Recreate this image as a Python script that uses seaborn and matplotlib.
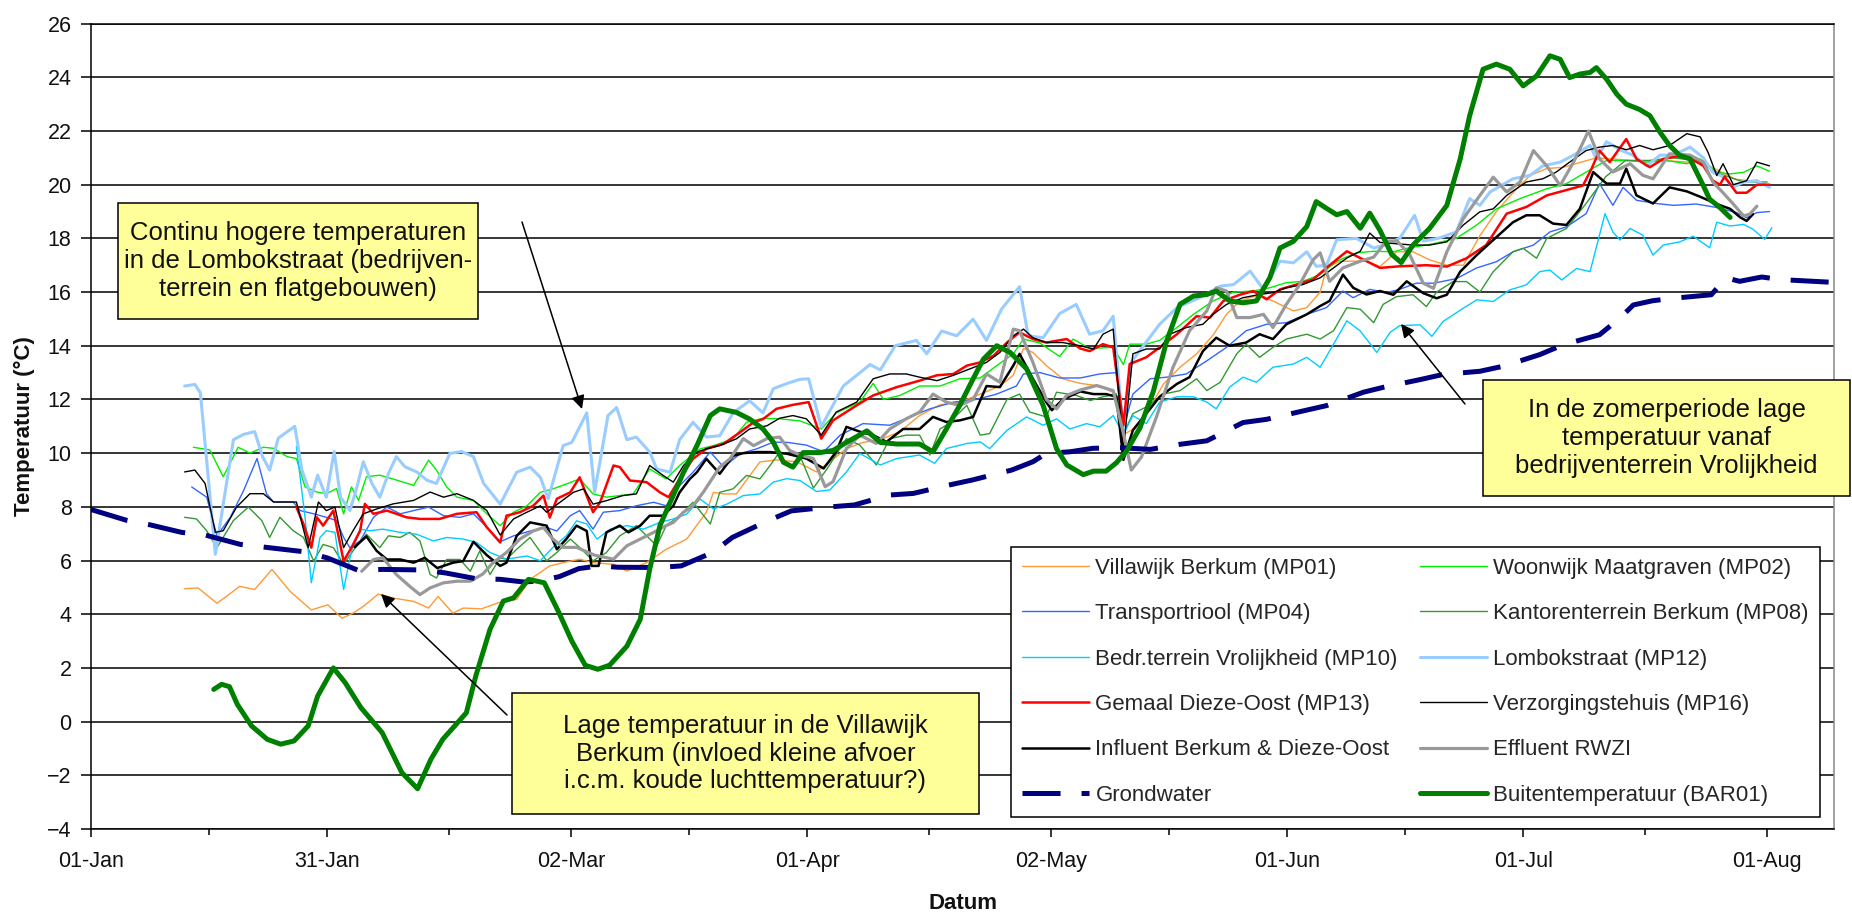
import numpy as np
import pandas as pd
import matplotlib
matplotlib.use('Agg')
import matplotlib.pyplot as plt
import matplotlib.dates as mdates
from matplotlib.ticker import FixedLocator
from matplotlib.patches import Rectangle
import seaborn as sns

# Meetreeksen: (dag sinds 1 januari, temperatuur in graden C)
villawijk = [(11.9, 4.95), (13.6, 4.98), (16.0, 4.41), (17.2, 4.66), (18.9, 5.04), (20.8, 4.92), (23.0, 5.67),
             (25.3, 4.85), (28.0, 4.16), (30.1, 4.35), (31.9, 3.85), (33.3, 4.04), (34.6, 4.29), (36.5, 4.75),
             (38.4, 4.6), (41.0, 4.48), (42.9, 4.23), (44.1, 4.66), (46.0, 4.04), (47.3, 4.23), (49.6, 4.2),
             (52.0, 4.45), (54.1, 4.55), (55.8, 5.3), (58.3, 5.8), (60.0, 5.92), (62.1, 6.05), (63.8, 5.92),
             (66.4, 5.86), (68.1, 5.61), (70.6, 5.92), (73.1, 6.42), (75.7, 6.8), (78.2, 7.8), (79.1, 8.54),
             (80.4, 8.48), (82.0, 8.48), (85.0, 9.67), (87.1, 9.75), (89.7, 9.68), (92.2, 9.3), (93.9, 9.68),
             (96.0, 10.17), (98.1, 10.4), (100.3, 10.5), (102.8, 10.8), (105.3, 11.4), (107.9, 11.8),
             (110.4, 11.9), (113.0, 12.2), (115.5, 12.5), (117.2, 12.9), (118.5, 13.9), (119.7, 13.75),
             (121.4, 13.26), (123.5, 12.77), (125.7, 12.6), (128.2, 12.5), (130.3, 12.2), (131.2, 10.7),
             (132.2, 10.85), (134.1, 11.47), (136.3, 12.58), (138.4, 13.2), (140.5, 13.7), (142.6, 14.4),
             (144.3, 15.17), (146.0, 15.67), (148.5, 15.9), (151.1, 15.54), (152.8, 15.3), (154.5, 15.42),
             (156.2, 16.0), (157.0, 16.9), (158.7, 17.15), (160.4, 17.15), (162.1, 17.15), (163.8, 16.95),
             (165.9, 17.5), (168.0, 17.5), (170.1, 17.2), (172.3, 17.0), (174.4, 17.0), (176.5, 18.1),
             (178.6, 19.0), (180.7, 19.7), (182.9, 20.35), (185.0, 20.6), (187.1, 20.65), (191.3, 21.0),
             (196.0, 20.9), (200.0, 20.9), (205.0, 20.8), (209.0, 20.2), (212.5, 20.1)]

woonwijk = [(13.0, 10.22), (15.1, 10.12), (16.8, 9.12), (18.7, 10.22), (20.2, 10.0), (21.9, 10.22), (23.2, 10.18),
            (24.9, 9.87), (26.1, 9.8), (27.2, 8.74), (28.7, 8.55), (29.9, 8.49), (31.2, 8.68), (32.1, 7.74),
            (33.1, 8.74), (34.0, 8.24), (35.0, 9.12), (36.7, 9.18), (38.8, 9.0), (41.0, 8.8), (42.9, 9.74),
            (43.9, 9.37), (45.2, 8.74), (46.5, 8.36), (48.6, 8.24), (50.3, 7.74), (52.0, 7.3), (53.7, 7.8),
            (55.4, 8.04), (57.1, 8.54), (58.7, 8.67), (60.4, 8.85), (62.1, 9.04), (63.8, 8.48), (65.5, 8.36),
            (67.2, 8.42), (68.9, 8.48), (71.0, 9.41), (73.1, 9.04), (74.8, 9.54), (77.4, 10.16), (79.1, 10.28),
            (81.6, 10.53), (83.3, 11.15), (85.4, 11.3), (87.5, 11.28), (90.1, 11.2), (92.8, 10.9), (94.7, 11.5),
            (97.7, 11.9), (99.4, 12.6), (100.7, 12.0), (102.8, 12.15), (105.3, 12.5), (107.9, 12.5),
            (110.4, 12.77), (113.0, 12.8), (115.1, 13.26), (117.2, 13.7), (118.5, 14.25), (120.6, 14.1),
            (123.1, 13.6), (124.8, 14.25), (126.9, 13.9), (129.9, 13.94), (131.2, 13.3), (132.0, 14.06),
            (134.1, 14.06), (135.8, 14.2), (138.0, 14.68), (140.1, 15.17), (142.6, 15.67), (145.2, 16.0),
            (147.7, 16.04), (149.8, 16.16), (151.9, 16.35), (154.0, 16.4), (156.2, 16.65), (158.3, 17.15),
            (160.8, 17.46), (163.0, 17.52), (165.5, 17.5), (167.2, 17.63), (170.6, 17.8), (173.5, 18.0),
            (176.1, 18.5), (178.6, 19.1), (181.6, 19.48), (185.0, 19.85), (187.5, 20.04), (190.0, 20.47),
            (192.6, 20.9), (195.1, 20.9), (197.7, 20.84), (200.2, 20.9), (202.8, 20.78), (204.5, 20.96),
            (206.6, 20.46), (208.3, 20.4), (210.0, 20.46), (211.7, 20.7), (213.3, 20.5)]

transportriool = [(12.8, 8.74), (14.7, 8.36), (16.0, 6.92), (17.7, 7.61), (19.4, 8.61), (21.1, 9.8), (22.3, 8.49),
                  (23.2, 8.18), (25.7, 8.18), (26.6, 7.86), (28.3, 7.74), (29.9, 7.61), (31.2, 7.49), (32.1, 6.86),
                  (32.9, 6.48), (34.2, 6.73), (35.9, 7.61), (37.6, 7.99), (39.3, 7.74), (41.0, 7.86), (42.9, 7.99),
                  (44.8, 7.67), (46.9, 7.61), (48.6, 7.74), (50.3, 7.24), (52.0, 6.7), (53.7, 6.92), (55.8, 7.1),
                  (57.9, 7.23), (59.2, 7.1), (60.9, 7.67), (62.1, 7.86), (63.8, 7.17), (65.1, 7.8), (67.2, 7.86),
                  (69.3, 8.04), (71.5, 8.17), (73.1, 8.04), (74.8, 8.79), (76.5, 9.29), (78.7, 10.04), (80.4, 9.48),
                  (82.5, 9.98), (84.6, 10.16), (86.7, 10.41), (88.5, 10.4), (90.9, 10.3), (93.1, 10.05),
                  (95.2, 10.67), (98.1, 11.1), (101.5, 11.04), (104.1, 11.35), (106.6, 11.65), (109.6, 11.9),
                  (112.5, 12.0), (115.1, 12.2), (117.6, 12.5), (118.5, 12.95), (120.6, 13.0), (123.1, 12.8),
                  (125.7, 12.8), (128.2, 12.95), (130.3, 13.0), (131.2, 10.9), (132.4, 12.2), (134.6, 12.77),
                  (136.7, 12.83), (139.2, 12.95), (141.8, 13.44), (144.3, 13.94), (146.8, 14.56), (149.4, 14.8),
                  (151.9, 14.86), (154.5, 15.17), (157.0, 15.42), (159.1, 16.04), (160.4, 15.79), (162.5, 16.1),
                  (164.6, 15.98), (166.3, 16.1), (168.4, 16.33), (170.6, 16.33), (173.5, 16.5), (176.1, 16.9),
                  (178.6, 17.13), (180.7, 17.5), (183.3, 17.75), (185.4, 18.24), (187.5, 18.43), (190.0, 18.92),
                  (191.7, 20.04), (193.4, 19.23), (194.7, 19.9), (196.4, 19.42), (198.9, 19.3), (201.1, 19.23),
                  (204.0, 19.28), (206.6, 19.15), (209.1, 18.96), (210.4, 18.77), (211.7, 18.96), (213.3, 19.0)]

kantorenterrein = [(11.9, 7.61), (13.4, 7.55), (14.7, 7.11), (16.0, 6.48), (18.1, 7.49), (20.0, 7.99), (21.7, 7.49),
                   (22.7, 6.86), (24.0, 7.61), (25.7, 7.11), (27.0, 6.86), (28.3, 5.98), (29.5, 6.6), (30.8, 6.48),
                   (32.1, 5.86), (33.3, 6.36), (35.0, 6.98), (36.7, 6.48), (37.8, 6.92), (39.3, 6.86), (40.5, 7.05),
                   (41.8, 6.73), (43.1, 5.48), (43.9, 5.35), (45.2, 6.04), (46.9, 6.04), (48.2, 5.6), (49.4, 6.36),
                   (50.7, 5.48), (52.0, 6.1), (52.8, 6.05), (54.1, 6.42), (55.8, 6.86), (57.9, 5.99), (59.2, 6.3),
                   (60.9, 6.8), (62.1, 6.49), (63.8, 5.99), (65.5, 6.3), (67.2, 6.92), (69.3, 7.3), (70.6, 6.92),
                   (71.9, 6.55), (73.1, 7.3), (74.8, 7.67), (76.5, 8.17), (78.7, 7.36), (79.9, 8.54), (81.6, 8.67),
                   (83.3, 9.17), (85.0, 9.04), (86.3, 9.54), (87.5, 10.04), (90.1, 9.9), (91.8, 8.7), (93.5, 9.4),
                   (96.0, 10.54), (97.7, 10.3), (99.8, 9.56), (101.5, 10.54), (103.6, 10.67), (105.3, 10.67),
                   (106.6, 9.93), (107.9, 10.9), (108.7, 11.04), (111.3, 11.78), (113.0, 10.67), (114.2, 10.73),
                   (116.4, 12.0), (118.0, 12.2), (119.3, 11.53), (121.4, 11.35), (122.7, 12.27), (125.2, 12.15),
                   (127.0, 11.96), (128.6, 12.1), (130.3, 12.2), (131.4, 10.85), (132.4, 11.47), (134.1, 11.72),
                   (136.3, 12.2), (138.4, 12.33), (140.5, 12.77), (141.8, 12.33), (143.5, 12.64), (145.6, 13.7),
                   (146.8, 14.06), (148.5, 13.57), (150.2, 13.94), (151.9, 14.25), (154.5, 14.43), (156.2, 14.25),
                   (157.9, 14.56), (159.6, 15.42), (161.3, 15.36), (163.0, 14.86), (164.2, 15.54), (165.9, 15.83),
                   (168.0, 15.9), (169.7, 15.46), (171.0, 16.0), (173.1, 16.39), (174.8, 16.39), (176.5, 16.0),
                   (178.2, 16.76), (180.7, 17.5), (182.0, 17.63), (183.7, 17.26), (185.0, 18.0), (187.5, 18.37),
                   (190.0, 19.3), (192.5, 20.3), (195.0, 20.9), (198.0, 20.9), (201.0, 21.0), (204.0, 20.9),
                   (207.0, 20.4), (210.0, 20.1), (213.0, 20.1)]

vrolijkheid = [(26.1, 10.25), (27.2, 7.61), (28.0, 5.17), (29.1, 6.86), (29.9, 7.11), (31.0, 7.05), (32.1, 4.92),
               (33.1, 6.36), (34.2, 7.17), (35.4, 7.11), (37.1, 7.17), (39.3, 7.05), (41.4, 6.98), (43.5, 6.73),
               (45.2, 6.86), (47.3, 6.8), (49.0, 6.67), (50.7, 6.3), (52.8, 6.05), (55.4, 6.17), (57.1, 5.99),
               (58.7, 6.49), (60.4, 6.92), (61.7, 7.48), (63.0, 7.36), (64.3, 6.8), (66.0, 7.17), (68.1, 7.3),
               (70.2, 7.17), (72.3, 7.42), (74.0, 7.55), (75.7, 7.73), (77.4, 8.29), (79.1, 7.92), (80.8, 8.1),
               (82.9, 8.42), (85.0, 8.48), (86.7, 8.92), (88.4, 9.05), (90.1, 8.98), (92.2, 8.57), (93.9, 8.63),
               (96.0, 9.3), (97.7, 9.99), (100.3, 9.56), (102.4, 9.8), (105.3, 9.93), (107.2, 9.62),
               (108.7, 10.17), (111.3, 10.36), (113.0, 10.42), (114.2, 10.17), (116.4, 10.85), (118.9, 11.35),
               (121.0, 11.04), (122.7, 11.28), (124.4, 10.9), (126.5, 11.1), (128.2, 10.98), (129.9, 11.4),
               (131.2, 10.7), (132.4, 11.4), (134.1, 11.1), (135.8, 11.9), (138.0, 12.1), (140.1, 12.1),
               (141.8, 11.9), (143.0, 11.65), (144.7, 12.46), (146.4, 12.83), (148.1, 12.64), (150.2, 13.2),
               (152.8, 13.32), (154.5, 13.57), (156.2, 13.2), (157.9, 14.06), (159.6, 14.93), (161.3, 14.55),
               (163.4, 13.75), (165.1, 14.5), (166.3, 14.75), (168.9, 14.78), (170.4, 14.35), (171.8, 14.9),
               (174.4, 15.4), (176.1, 15.71), (178.2, 15.65), (180.3, 16.08), (182.4, 16.27), (184.1, 16.76),
               (185.4, 16.82), (186.9, 16.45), (188.8, 16.88), (190.5, 16.76), (192.4, 18.92), (193.4, 18.24),
               (194.3, 17.94), (195.6, 18.37), (197.2, 18.12), (198.5, 17.38), (199.8, 17.75), (201.9, 17.87),
               (203.6, 18.08), (205.7, 17.65), (206.6, 18.6), (208.3, 18.46), (210.0, 18.52), (211.2, 18.34),
               (212.7, 17.96), (213.6, 18.4)]

lombokstraat = [(11.9, 12.5), (13.2, 12.56), (13.9, 12.25), (15.8, 6.23), (18.1, 10.5), (19.4, 10.7), (20.8, 10.8),
                (21.8, 9.87), (22.7, 9.37), (23.8, 10.56), (25.9, 11.0), (26.8, 9.37), (28.0, 8.36), (28.8, 9.18),
                (29.9, 8.36), (30.9, 10.06), (31.7, 8.36), (32.9, 7.86), (33.8, 8.74), (34.6, 9.68), (35.7, 8.87),
                (36.7, 8.36), (37.8, 9.24), (38.8, 9.87), (39.9, 9.49), (41.4, 9.3), (42.7, 8.99), (43.9, 8.87),
                (45.6, 9.99), (47.1, 10.06), (48.6, 9.87), (49.9, 8.87), (52.0, 8.1), (54.1, 9.29), (55.8, 9.48),
                (57.1, 9.1), (58.1, 8.3), (60.0, 10.28), (61.1, 10.4), (63.0, 11.5), (64.0, 8.54), (65.7, 11.4),
                (66.8, 11.7), (68.1, 10.5), (69.3, 10.6), (71.0, 10.04), (71.9, 9.41), (73.6, 9.29), (74.8, 10.5),
                (76.5, 11.15), (78.2, 10.6), (79.9, 10.65), (81.6, 11.5), (83.7, 11.95), (85.4, 11.5),
                (86.7, 12.4), (88.5, 12.6), (90.1, 12.75), (91.2, 12.77), (92.8, 10.98), (95.6, 12.5),
                (99.0, 13.3), (100.3, 13.1), (102.2, 14.0), (104.9, 14.2), (106.2, 13.7), (108.1, 14.55),
                (110.0, 14.37), (112.1, 14.99), (113.8, 14.2), (115.7, 15.36), (118.0, 16.2), (119.1, 14.37),
                (121.0, 14.3), (123.1, 15.2), (125.2, 15.54), (126.9, 14.43), (128.6, 14.56), (129.9, 15.1),
                (131.2, 10.7), (132.2, 13.4), (135.8, 14.8), (138.0, 15.42), (140.9, 15.79), (143.5, 16.22),
                (145.2, 16.28), (147.3, 16.78), (149.0, 16.1), (151.1, 17.15), (152.8, 17.09), (154.5, 17.5),
                (155.7, 16.96), (157.0, 17.0), (158.3, 17.95), (160.8, 18.0), (163.0, 17.64), (164.6, 17.77),
                (166.3, 18.0), (168.2, 18.86), (169.3, 17.9), (171.2, 18.0), (173.5, 18.24), (175.2, 19.48),
                (176.5, 19.23), (177.8, 19.73), (180.7, 20.22), (182.9, 20.35), (184.5, 20.7), (186.7, 20.84),
                (188.4, 21.1), (190.5, 21.46), (191.3, 20.96), (192.6, 21.6), (194.3, 21.3), (196.0, 21.09),
                (197.7, 20.7), (199.4, 21.1), (201.1, 21.1), (203.2, 21.4), (204.9, 21.0), (206.1, 20.46),
                (207.4, 20.3), (208.7, 19.9), (210.0, 20.1), (211.7, 20.15), (213.3, 19.9)]

gemaal = [(26.1, 7.99), (27.0, 7.36), (28.0, 6.48), (28.7, 7.61), (29.5, 7.3), (30.8, 7.86), (32.1, 5.98),
          (33.1, 6.48), (34.2, 7.11), (34.8, 8.11), (35.9, 7.74), (37.6, 7.86), (40.1, 7.61), (41.8, 7.55),
          (44.3, 7.55), (46.5, 7.74), (49.0, 7.8), (50.3, 7.24), (52.0, 6.67), (52.8, 7.67), (54.5, 7.8),
          (56.2, 8.04), (57.5, 8.42), (58.3, 7.6), (59.2, 8.3), (60.9, 8.54), (62.1, 9.1), (63.8, 7.8),
          (64.7, 8.17), (66.4, 9.54), (67.2, 9.48), (68.5, 8.98), (70.6, 8.92), (72.3, 8.54), (73.4, 8.36),
          (74.8, 9.04), (76.5, 9.79), (78.2, 10.16), (80.4, 10.35), (82.5, 10.78), (84.2, 11.15), (85.4, 11.27),
          (87.1, 11.65), (89.2, 11.8), (91.2, 11.9), (92.8, 10.54), (94.3, 11.22), (97.3, 11.78), (99.4, 12.15),
          (102.4, 12.46), (105.3, 12.7), (107.5, 12.9), (109.6, 12.95), (111.3, 13.26), (113.0, 13.38),
          (114.7, 13.63), (116.4, 14.12), (118.0, 14.5), (119.7, 14.25), (121.4, 14.12), (124.0, 14.25),
          (125.7, 13.9), (126.9, 13.8), (128.6, 14.06), (129.9, 13.94), (131.2, 11.04), (132.0, 13.32),
          (134.1, 13.57), (135.8, 13.94), (138.0, 14.43), (140.5, 15.1), (142.2, 15.05), (143.9, 15.67),
          (146.0, 15.9), (147.7, 16.04), (149.4, 15.73), (151.1, 16.1), (153.2, 16.28), (155.3, 16.47),
          (157.4, 17.0), (159.6, 17.52), (162.1, 17.15), (163.8, 16.9), (166.3, 16.96), (169.7, 17.0),
          (172.3, 16.95), (174.8, 17.26), (177.3, 17.75), (179.9, 18.92), (182.4, 19.17), (185.0, 19.6),
          (187.5, 19.8), (189.6, 19.97), (190.7, 20.6), (191.7, 21.27), (193.0, 20.84), (195.1, 21.7),
          (196.4, 20.96), (198.1, 20.65), (199.8, 20.96), (201.5, 21.05), (203.2, 21.0), (204.9, 20.7),
          (206.1, 20.15), (207.0, 20.0), (207.6, 20.3), (209.1, 19.7), (210.4, 19.7), (211.7, 20.0), (213.3, 20.0)]

verzorgingstehuis = [(11.9, 9.3), (13.2, 9.37), (14.5, 8.87), (15.8, 7.05), (16.8, 7.11), (18.5, 7.99), (20.2, 8.49),
                     (21.9, 8.49), (23.2, 8.18), (26.1, 8.18), (27.6, 6.48), (28.9, 8.18), (29.9, 7.86), (31.0, 7.99),
                     (32.1, 6.48), (33.3, 7.11), (34.6, 7.74), (36.3, 7.92), (38.4, 8.11), (41.0, 8.24), (43.1, 8.55),
                     (44.8, 8.36), (46.5, 8.49), (48.6, 8.24), (50.3, 7.86), (52.0, 6.95), (53.7, 7.55), (55.4, 7.8),
                     (57.1, 8.04), (57.9, 7.8), (59.6, 8.17), (61.3, 8.54), (62.6, 8.67), (63.8, 8.1), (65.5, 8.23),
                     (67.6, 8.42), (69.3, 8.48), (71.0, 9.54), (72.7, 9.17), (74.0, 8.92), (75.3, 9.54), (77.0, 10.04),
                     (78.2, 10.16), (79.9, 10.28), (82.0, 10.53), (83.7, 10.9), (85.9, 11.02), (87.5, 11.3),
                     (89.2, 11.4), (90.9, 11.28), (92.8, 10.67), (94.7, 11.53), (97.3, 11.9), (99.4, 12.77),
                     (101.5, 12.95), (103.6, 12.95), (105.3, 12.83), (107.5, 12.7), (109.6, 12.9), (111.7, 13.14),
                     (113.8, 13.38), (115.5, 13.75), (117.2, 14.37), (118.5, 14.62), (119.7, 14.3), (121.4, 14.12),
                     (123.5, 14.12), (125.7, 14.0), (127.4, 13.88), (128.6, 14.43), (129.9, 14.62), (131.2, 10.1),
                     (132.4, 13.7), (134.1, 13.88), (135.8, 13.88), (137.1, 14.43), (139.2, 14.68), (141.3, 14.8),
                     (142.6, 15.17), (144.3, 15.54), (146.4, 15.79), (148.5, 15.91), (150.2, 15.98), (151.9, 16.16),
                     (154.0, 16.28), (156.2, 16.53), (157.9, 16.9), (159.6, 17.27), (161.3, 17.52), (162.5, 18.2),
                     (163.8, 17.85), (165.9, 17.8), (168.0, 17.75), (170.1, 17.75), (172.3, 17.87), (174.4, 18.5),
                     (176.5, 18.99), (178.2, 19.1), (179.9, 19.6), (182.4, 20.1), (184.5, 20.22), (186.2, 20.47),
                     (187.9, 20.84), (190.0, 21.27), (191.7, 21.4), (193.4, 21.46), (195.1, 21.3), (196.8, 21.46),
                     (198.5, 21.3), (200.6, 21.46), (202.8, 21.9), (204.5, 21.78), (205.5, 21.2), (206.6, 20.34),
                     (207.4, 20.78), (208.7, 20.0), (210.4, 20.15), (211.7, 20.84), (213.3, 20.7)]

influent = [(33.5, 6.5), (35.0, 6.9), (36.3, 6.36), (37.6, 6.04), (39.3, 6.04), (41.0, 5.92), (42.4, 6.1),
            (44.0, 5.72), (46.0, 5.92), (47.3, 5.98), (48.6, 6.7), (50.3, 6.2), (52.0, 5.8), (52.8, 5.92),
            (54.1, 6.92), (55.8, 7.42), (57.9, 7.3), (59.2, 6.42), (60.4, 6.8), (61.7, 7.3), (63.0, 7.1),
            (63.6, 5.8), (64.5, 5.8), (65.5, 7.05), (67.2, 7.3), (68.3, 7.05), (69.8, 7.3), (71.0, 7.67),
            (72.7, 7.67), (74.0, 8.04), (74.8, 8.54), (76.1, 9.04), (77.0, 9.29), (78.2, 9.79), (79.9, 9.23),
            (81.6, 9.9), (82.9, 10.0), (84.6, 10.04), (86.3, 10.04), (88.4, 9.98), (90.9, 9.8), (93.1, 9.43),
            (94.7, 10.05), (96.0, 10.98), (97.7, 10.8), (99.4, 10.67), (101.1, 10.42), (103.2, 10.9),
            (105.3, 10.9), (107.0, 11.35), (108.7, 11.16), (110.4, 11.22), (112.1, 11.35), (113.8, 12.5),
            (115.5, 12.46), (117.2, 13.26), (118.0, 13.7), (119.7, 12.77), (121.4, 11.9), (122.1, 11.6),
            (123.5, 12.0), (125.7, 12.3), (127.4, 12.2), (129.0, 12.2), (130.3, 12.1), (131.2, 9.75),
            (132.4, 10.85), (134.1, 11.47), (135.8, 12.1), (138.0, 12.58), (139.6, 12.83), (141.3, 13.8),
            (143.0, 14.3), (144.7, 14.0), (146.8, 14.12), (148.5, 14.43), (150.2, 14.25), (151.9, 14.8),
            (154.5, 15.17), (156.2, 15.48), (157.4, 15.67), (159.1, 16.65), (160.4, 16.16), (162.1, 15.91),
            (163.8, 16.04), (165.5, 15.9), (167.2, 16.4), (169.3, 15.96), (171.0, 15.77), (172.3, 15.9),
            (174.0, 16.76), (176.1, 17.38), (178.2, 17.94), (180.7, 18.6), (182.4, 18.86), (184.1, 18.86),
            (185.8, 18.55), (187.5, 18.5), (189.2, 19.1), (190.9, 20.47), (192.6, 20.04), (194.3, 20.04),
            (195.1, 20.6), (196.4, 19.6), (198.5, 19.3), (200.6, 19.9), (202.8, 19.75), (204.5, 19.55),
            (206.6, 19.28), (208.3, 19.1), (209.6, 18.78), (210.4, 18.65), (211.2, 18.9)]

effluent = [(34.4, 5.6), (35.9, 6.04), (37.1, 6.1), (38.8, 5.48), (40.5, 5.04), (41.8, 4.73), (43.1, 4.98),
            (44.8, 5.17), (46.5, 5.23), (48.2, 5.23), (49.8, 5.5), (51.1, 5.92), (52.8, 6.3), (54.5, 6.8),
            (56.2, 7.1), (57.5, 7.23), (58.7, 6.8), (60.0, 6.49), (61.7, 6.49), (64.0, 6.2), (66.4, 6.05),
            (68.1, 6.55), (69.8, 6.8), (71.5, 7.05), (73.1, 7.3), (74.0, 7.42), (75.3, 7.8), (76.5, 8.04),
            (77.8, 8.54), (79.9, 9.48), (81.2, 9.79), (82.9, 10.54), (84.2, 10.28), (85.9, 10.54), (87.5, 10.6),
            (88.8, 10.1), (90.1, 9.93), (91.8, 9.8), (93.3, 8.75), (94.3, 8.94), (96.0, 10.17), (97.7, 10.67),
            (99.8, 10.36), (101.5, 10.9), (103.6, 11.28), (105.3, 11.53), (107.0, 12.2), (108.7, 11.9),
            (110.4, 11.78), (112.1, 12.0), (113.8, 12.95), (115.5, 12.64), (117.2, 14.62), (118.0, 14.56),
            (119.7, 13.38), (121.4, 12.0), (122.7, 11.65), (124.0, 12.15), (125.7, 12.35), (127.8, 12.52),
            (129.9, 12.33), (131.2, 10.73), (132.2, 9.37), (133.5, 9.86), (135.4, 11.35), (137.5, 13.2),
            (139.6, 14.56), (141.8, 15.3), (143.0, 16.16), (144.3, 16.04), (145.6, 15.05), (147.3, 15.05),
            (149.0, 15.17), (150.2, 14.68), (151.9, 15.54), (153.6, 16.28), (155.3, 17.2), (156.2, 17.46),
            (157.4, 16.4), (159.1, 16.9), (161.3, 17.15), (163.0, 17.3), (164.6, 17.9), (166.0, 17.9),
            (167.6, 17.38), (169.3, 16.33), (170.6, 16.14), (172.3, 17.5), (174.4, 18.74), (176.5, 19.6),
            (178.2, 20.28), (179.9, 19.73), (181.6, 20.1), (183.3, 21.27), (185.0, 20.7), (186.7, 19.97),
            (188.4, 20.84), (190.3, 22.0), (191.7, 20.96), (193.4, 20.47), (195.6, 20.78), (197.2, 20.35),
            (198.5, 20.22), (200.6, 21.15), (203.2, 21.1), (204.9, 20.84), (206.1, 20.1), (207.4, 19.7),
            (208.7, 19.28), (210.0, 18.84), (210.8, 18.9), (211.7, 19.2)]

grondwater = [(0.0, 7.9), (4.5, 7.5), (7.5, 7.33), (11.5, 7.05), (14.5, 6.95), (19.0, 6.6), (22.0, 6.5), (27.0, 6.33),
              (30.0, 6.1), (34.0, 5.63), (37.0, 5.67), (42.0, 5.65), (45.0, 5.54), (49.0, 5.32), (52.0, 5.3),
              (55.0, 5.2), (57.0, 5.24), (59.5, 5.4), (62.0, 5.7), (64.5, 5.8), (67.0, 5.75), (72.0, 5.74),
              (75.0, 5.8), (79.0, 6.3), (81.5, 6.86), (86.0, 7.48), (89.0, 7.85), (94.0, 8.0), (97.0, 8.07),
              (101.5, 8.44), (104.5, 8.5), (109.0, 8.81), (112.0, 9.0), (117.0, 9.37), (119.7, 9.68),
              (121.4, 9.99), (124.4, 10.05), (127.3, 10.18), (131.0, 10.2), (134.6, 10.14), (138.4, 10.33),
              (141.8, 10.46), (146.4, 11.14), (149.4, 11.26), (154.0, 11.57), (157.0, 11.77), (161.7, 12.27),
              (164.2, 12.45), (168.9, 12.74), (171.8, 12.93), (176.5, 13.05), (179.5, 13.24), (184.1, 13.67),
              (187.1, 14.04), (191.7, 14.41), (194.3, 15.03), (196.0, 15.52), (198.5, 15.68), (201.5, 15.78),
              (205.9, 15.9), (207.8, 16.53), (209.5, 16.4), (212.3, 16.56), (215.0, 16.46), (221.5, 16.36)]

buitentemperatuur = [(15.6, 1.2), (16.6, 1.39), (17.6, 1.3), (18.6, 0.64), (20.4, -0.16), (22.4, -0.66), (24.1, -0.84),
                     (25.8, -0.72), (27.6, -0.16), (28.8, 0.95), (30.8, 2.0), (32.3, 1.45), (34.3, 0.52),
                     (37.0, -0.41), (39.5, -1.9), (41.5, -2.5), (43.2, -1.4), (44.7, -0.66), (46.4, -0.1),
                     (47.7, 0.33), (48.9, 1.7), (50.7, 3.43), (52.4, 4.49), (53.7, 4.61), (55.6, 5.3), (57.6, 5.17),
                     (59.4, 4.1), (61.1, 3.0), (62.8, 2.1), (64.4, 1.95), (65.9, 2.1), (68.1, 2.81), (69.8, 3.81),
                     (71.0, 5.68), (72.3, 7.3), (73.6, 8.17), (75.3, 9.29), (77.0, 10.28), (78.7, 11.4),
                     (79.9, 11.65), (82.0, 11.52), (83.7, 11.27), (85.4, 10.9), (86.7, 10.41), (88.0, 9.66),
                     (89.2, 9.48), (90.5, 10.02), (92.6, 10.02), (94.3, 10.1), (96.0, 10.4), (98.6, 10.83),
                     (100.3, 10.4), (102.4, 10.34), (105.3, 10.34), (107.0, 10.05), (108.7, 10.9), (110.4, 11.78),
                     (112.1, 12.77), (113.4, 13.5), (115.1, 14.0), (116.8, 13.75), (118.9, 13.14), (121.0, 11.78),
                     (122.7, 10.17), (124.0, 9.56), (126.1, 9.2), (127.4, 9.33), (129.0, 9.33), (130.3, 9.64),
                     (131.6, 10.08), (133.3, 10.94), (135.0, 12.3), (136.7, 14.18), (138.4, 15.55), (140.1, 15.85),
                     (141.8, 15.91), (143.0, 16.04), (144.7, 15.67), (146.4, 15.6), (148.1, 15.67), (149.8, 16.53),
                     (151.1, 17.64), (152.8, 17.89), (154.5, 18.44), (155.7, 19.37), (157.0, 19.12), (158.3, 18.88),
                     (159.6, 19.0), (161.3, 18.38), (162.5, 18.94), (163.8, 18.3), (165.3, 17.4), (166.5, 17.1),
                     (168.0, 17.75), (170.1, 18.37), (172.3, 19.23), (174.0, 20.96), (175.2, 22.57), (176.9, 24.3),
                     (178.6, 24.49), (180.3, 24.3), (182.0, 23.68), (183.7, 24.05), (185.4, 24.8), (186.7, 24.67),
                     (187.9, 23.99), (189.2, 24.12), (190.5, 24.18), (191.3, 24.36), (192.6, 23.93), (193.9, 23.37),
                     (195.1, 23.0), (196.8, 22.8), (198.1, 22.57), (199.4, 21.95), (200.6, 21.46), (201.9, 21.09),
                     (203.2, 20.96), (204.9, 19.96), (205.7, 19.46), (207.0, 19.15), (208.3, 18.78)]

labels = ['Villawijk Berkum (MP01)', 'Woonwijk Maatgraven (MP02)', 'Transportriool (MP04)',
          'Kantorenterrein Berkum (MP08)', 'Bedr.terrein Vrolijkheid (MP10)', 'Lombokstraat (MP12)',
          'Gemaal Dieze-Oost (MP13)', 'Verzorgingstehuis (MP16)', 'Influent Berkum & Dieze-Oost',
          'Effluent RWZI', 'Grondwater', 'Buitentemperatuur (BAR01)']

tick_dates = ['2008-01-01', '2008-01-31', '2008-03-02', '2008-04-01', '2008-05-02',
              '2008-06-01', '2008-07-01', '2008-08-01']

notes = ['Continu hogere temperaturen\nin de Lombokstraat (bedrijven-\nterrein en flatgebouwen)',
         'In de zomerperiode lage\ntemperatuur vanaf\nbedrijventerrein Vrolijkheid',
         'Lage temperatuur in de Villawijk\nBerkum (invloed kleine afvoer\ni.c.m. koude luchttemperatuur?)']

sns.set_style('white')
plt.rcParams['font.family'] = ['Liberation Sans', 'DejaVu Sans']
plt.rcParams['lines.scale_dashes'] = False

W, H = 1852, 913
fig = plt.figure(figsize=(W / 100, H / 100), dpi=100)
ax = fig.add_axes([91 / W, 1 - 829 / H, 1743 / W, (829 - 23.6) / H])

start = pd.Timestamp('2008-01-01')

all_series = [villawijk, woonwijk, transportriool, kantorenterrein, vrolijkheid, lombokstraat,
              gemaal, verzorgingstehuis, influent, effluent, grondwater, buitentemperatuur]
colors = ['#FF9933', '#00EE00', '#3366FF', '#339933', '#00CCFF', '#99CCFF',
          '#FF0000', '#000000', '#000000', '#999999', '#000080', '#008000']
widths = [1.0, 1.0, 1.0, 1.0, 1.0, 2.2, 1.8, 1.0, 1.8, 2.3, 3.6, 3.6]

lines = []
for pts, lab, col, lw in zip(all_series, labels, colors, widths):
    df = pd.DataFrame(pts, columns=['dag', 'temp'])
    df['datum'] = start + pd.to_timedelta(df['dag'], unit='D')
    sns.lineplot(data=df, x='datum', y='temp', ax=ax, color=col, linewidth=lw,
                 sort=False, estimator=None, label=lab)
    lines.append(ax.lines[-1])

lines[10].set_dashes([27.4, 15.1])
lines[10].set_dash_capstyle('butt')

if ax.get_legend() is not None:
    ax.get_legend().remove()

# axes
ax.set_xlim(start, start + pd.Timedelta(days=221.5))
ax.set_ylim(-4, 26)
ax.set_yticks(np.arange(-4, 27, 2))
major = mdates.date2num(pd.to_datetime(tick_dates).to_pydatetime())
ax.xaxis.set_major_locator(FixedLocator(major))
ax.xaxis.set_minor_locator(FixedLocator((major[:-1] + major[1:]) / 2))
ax.xaxis.set_major_formatter(mdates.DateFormatter('%d-%b'))

ax.yaxis.grid(True, color='black', linewidth=1.1)
ax.xaxis.grid(False)
ax.set_axisbelow(True)
for s in ['left', 'bottom', 'top']:
    ax.spines[s].set_color('black')
    ax.spines[s].set_linewidth(1.1)
ax.spines['right'].set_color('#888888')
ax.spines['right'].set_linewidth(1.1)

ax.tick_params(axis='y', which='major', direction='out', left=True, length=7, width=1.1,
               color='black', labelcolor='#111111', labelsize=15.5, pad=7)
ax.tick_params(axis='x', which='major', direction='out', bottom=True, length=6, width=1.1,
               color='black', labelcolor='#111111', labelsize=15.5, pad=10)
ax.tick_params(axis='x', which='minor', direction='out', bottom=True, length=4, width=1.1, color='black')

ax.set_xlabel('Datum', fontsize=16, fontweight='bold', color='#111111', labelpad=15)
ax.set_ylabel('Temperatuur (°C)', fontsize=16, fontweight='bold', color='#111111', labelpad=9)

# legend, two columns filled column by column
order = [0, 2, 4, 6, 8, 10, 1, 3, 5, 7, 9, 11]
leg = ax.legend([lines[i] for i in order], [labels[i] for i in order], ncol=2,
                loc='lower left', bbox_to_anchor=(0.5278, 0.0149), borderaxespad=0,
                fontsize=16, frameon=True, fancybox=False, edgecolor='black', framealpha=1,
                handlelength=3.0, handletextpad=0.3, columnspacing=1.0, labelspacing=1.1, borderpad=0.5)
leg.get_frame().set_linewidth(1.1)
leg.set_zorder(5)


def ff(px, py):
    return px / W, 1 - py / H


# annotation boxes
boxes = [(118, 203, 478, 319), (1483, 380, 1850, 496), (512, 693, 979, 814)]
for (x0, y0, x1, y1), txt in zip(boxes, notes):
    fx0, fy1 = ff(x0, y1)
    fig.add_artist(Rectangle((fx0, fy1), (x1 - x0) / W, (y1 - y0) / H, transform=fig.transFigure,
                             facecolor='#FFFF99', edgecolor='black', linewidth=1.1, zorder=5))
    cx, cy = ff((x0 + x1) / 2, (y0 + y1) / 2)
    fig.text(cx, cy, txt, ha='center', va='center', multialignment='center',
             fontsize=18.5, color='#111111', zorder=6, linespacing=1.2)

# arrows
arrows = [((522, 222), (582, 409)), ((1465, 404), (1401, 324)), ((507, 715), (381, 594))]
for s, e in arrows:
    ax.annotate('', xy=ff(*e), xycoords='figure fraction', xytext=ff(*s), textcoords='figure fraction',
                arrowprops=dict(arrowstyle='-|>', color='black', lw=1.1, mutation_scale=20,
                                shrinkA=0, shrinkB=0), zorder=6)

fig.savefig('out.png', dpi=100)
